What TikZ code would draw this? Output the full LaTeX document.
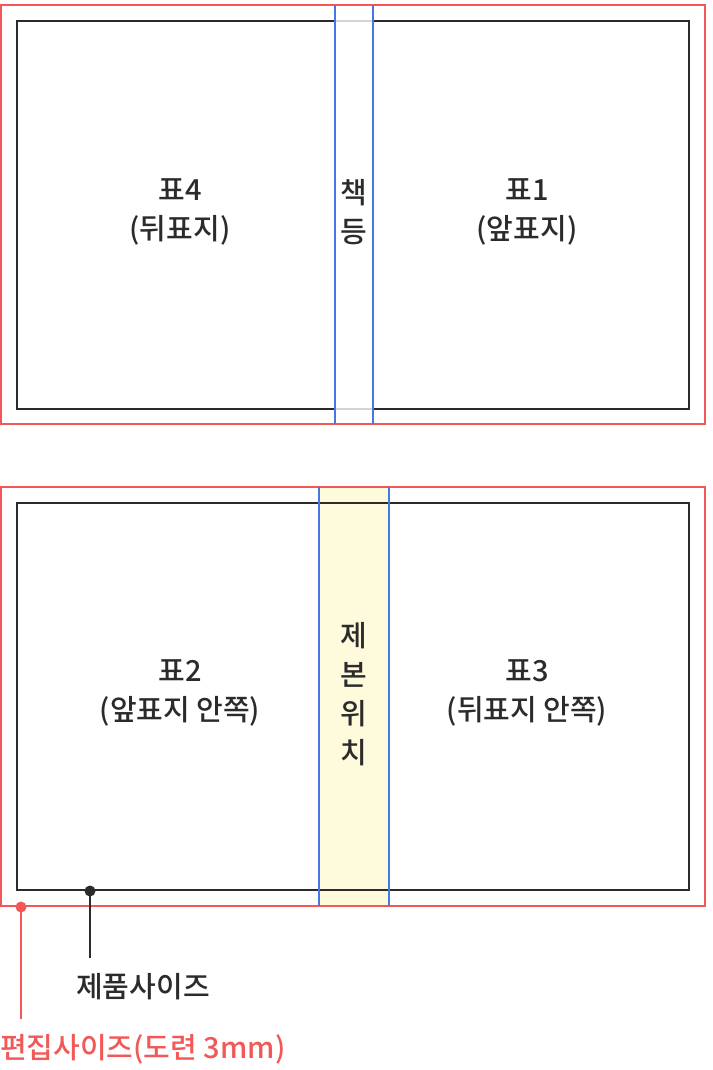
\documentclass[tikz,border=0pt]{standalone}
\usepackage{fontspec}
\setmainfont{Noto Sans CJK KR Medium}
\usetikzlibrary{positioning}
\definecolor{bleed}{HTML}{F25858}
\definecolor{spine}{HTML}{4579E0}
\definecolor{ink}{HTML}{2B2B2B}
\definecolor{bind}{HTML}{FEFADC}
\definecolor{faint}{HTML}{D4D4D4}

\begin{document}
\begin{tikzpicture}
    [x=1pt,y=-1pt,
    every node/.style={font=\fontsize{29}{39}\selectfont,text=ink,align=center,inner sep=0pt},
    trim/.style={draw=ink,line width=2pt},
    edit/.style={draw=bleed,line width=2pt},
    fold/.style={draw=spine,line width=2pt}]

    \useasboundingbox (0,0) rectangle (712,1070);

    % cover, outside
    \draw[edit] (1,5) rectangle (705,424);
    \draw[trim] (17,21) rectangle (689,409);
    \draw[faint,line width=2pt] (335,21) -- (373,21) (335,409) -- (373,409);
    \draw[fold] (335,5) -- (335,424) (373,5) -- (373,424);
    \node (p4) at (180,212) {표4\\(뒤표지)};
    \node (p1) at (527,212) {표1\\(앞표지)};
    \node (back) at (354,212) {책\\등};

    % cover, inside
    \fill[bind] (319,487) rectangle (389,906);
    \draw[edit] (1,487) rectangle (705,906);
    \draw[trim] (17,503) rectangle (689,890);
    \draw[fold] (319,487) -- (319,906) (389,487) -- (389,906);
    \node (p2) at (180,693) {표2\\(앞표지 안쪽)};
    \node (p3) at (527,693) {표3\\(뒤표지 안쪽)};
    \node (bindpos) at (354,694) {제\\본\\위\\치};

    % leaders
    \coordinate (trimdot) at (90,891);
    \coordinate (trimend) at (90,958);
    \node (triml) at (143,987) {제품사이즈};
    \draw[ink,line width=2pt] (trimdot) -- (trimend);
    \fill[ink] (trimdot) circle (5.5pt);

    \coordinate (editdot) at (21,907);
    \coordinate (editend) at (21,1019);
    \node[anchor=west,text=bleed] (editl) at (0,1049) {편집사이즈(도련 3mm)};
    \draw[bleed,line width=2pt] (editdot) -- (editend);
    \fill[bleed] (editdot) circle (5.5pt);
\end{tikzpicture}
\end{document}
